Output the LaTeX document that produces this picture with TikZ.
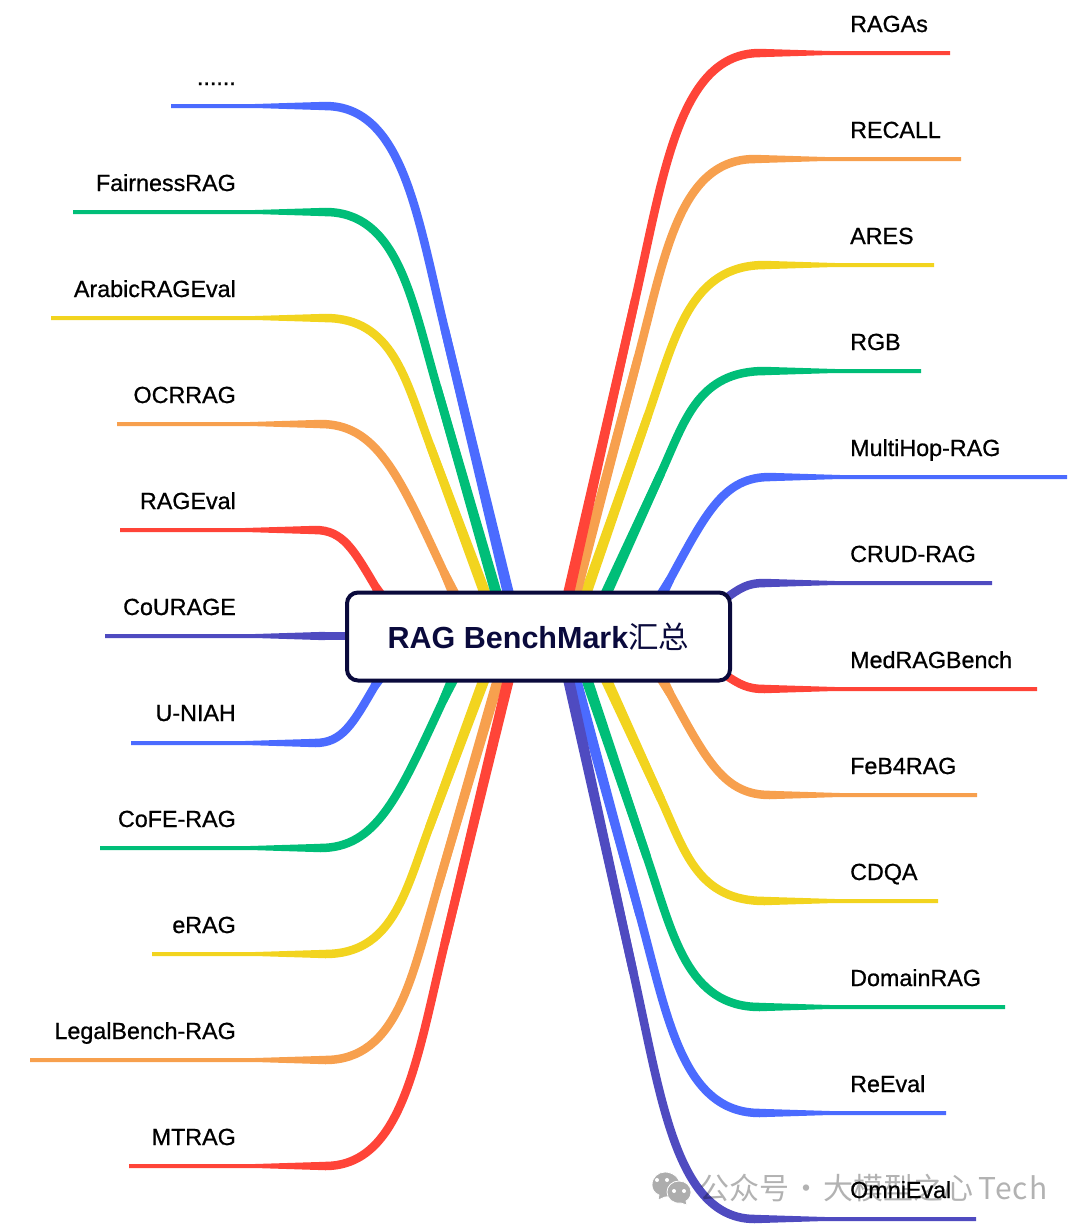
\documentclass[tikz,border=0pt]{standalone}
\usepackage{fontspec}
\setmainfont{Liberation Sans}[FakeBold=0.8,BoldFont={Liberation Sans Bold},BoldFeatures={FakeBold=0}]
\newfontfamily\cjk{Noto Sans CJK SC}
\usetikzlibrary{calc}
\definecolor{Red}{HTML}{FF4438}
\definecolor{Orange}{HTML}{F7A04E}
\definecolor{Yellow}{HTML}{F2D41F}
\definecolor{Green}{HTML}{00BE78}
\definecolor{Blue}{HTML}{4B6BFF}
\definecolor{Indigo}{HTML}{4F4BC0}
\definecolor{Ink}{HTML}{0A0A3C}
\tikzset{
    hubnode/.style={rectangle, rounded corners=11pt, draw=Ink, fill=white, line width=4pt, text=Ink, minimum width=383pt, minimum height=88pt, inner sep=0pt, font=\fontsize{30.5}{36}\selectfont\bfseries},
    leftlabel/.style={anchor=base east, inner sep=0pt, text=black, font=\fontsize{23.3}{28}\selectfont},
    rightlabel/.style={anchor=base west, inner sep=0pt, text=black, font=\fontsize{23.3}{28}\selectfont},
    watermark/.style={anchor=base west, inner sep=0pt, text=black, text opacity=0.3, font=\fontsize{30}{34}\selectfont\cjk},
    wechatbubble/.style={fill=black!32, draw=white, line width=0.8pt},
    wechateye/.style={fill=white, circle, inner sep=0pt, minimum size=4pt},
}
% name, colour, tip x, row y, knee x, end x, end y
\newcommand{\branch}[7]{%
    \pgfmathsetmacro{\bdir}{#5>#3?1:-1}
    \pgfmathsetmacro{\bdx}{#6-#5}
    \pgfmathsetmacro{\bdy}{#7-#4}
    \pgfmathsetmacro{\bcx}{abs(\bdy)<200?0.58:0.5}
    \pgfmathsetmacro{\bcy}{abs(\bdy)<200?0.29:0.22}
    \pgfmathsetmacro{\bmx}{abs(\bdy)<200?0.916:0.65}
    \pgfmathsetmacro{\bmy}{abs(\bdy)<200?0.858:0.454}
    \coordinate (#1-tip) at (#3,#4);
    \coordinate (#1-thin) at (#5-70*\bdir,#4);
    \coordinate (#1-knee) at (#5,#4);
    \coordinate (#1-ca) at (#5+0.42*\bdx,#4);
    \coordinate (#1-cb) at (#5+\bcx*\bdx,#4+\bcy*\bdy);
    \coordinate (#1-mid) at (#5+\bmx*\bdx,#4+\bmy*\bdy);
    \coordinate (#1-end) at (#6,#7);
    \fill[#2] (#1-tip) ++(0,-2) -- ($(#1-thin)+(0,-2)$) -- ($(#1-knee)+(0,-4.2)$) -- ($(#1-knee)+(0,4.2)$)
        -- ($(#1-thin)+(0,2)$) -- ($(#1-tip)+(0,2)$) -- cycle;
    \draw[#2, line width=8.5pt, line join=round] (#1-knee) .. controls (#1-ca) and (#1-cb) .. (#1-mid) -- (#1-end);
    \fill[#2] ($(#1-mid)!4.25pt!90:(#1-end)$) -- ($(#1-end)!5.5pt!-90:(#1-mid)$)
        -- ($(#1-end)!5.5pt!90:(#1-mid)$) -- ($(#1-mid)!4.25pt!-90:(#1-end)$) -- cycle;
}
\begin{document}
\begin{tikzpicture}[x=1pt,y=-1pt]
    \useasboundingbox (0,0) rectangle (1080,1232);

    % Left side, upper half
    \branch{rageval}{Red}{120}{530}{315}{381}{596}
    \branch{ocrrag}{Orange}{117}{424}{320}{455}{596}
    \branch{arabic}{Yellow}{51}{318}{325}{486}{596}
    \branch{fairness}{Green}{73}{212}{325}{497}{596}
    \branch{more}{Blue}{171}{106}{325}{509}{596}
    \branch{courage}{Indigo}{105}{636}{325}{360}{636}

    % Left side, lower half
    \branch{uniah}{Blue}{131}{743}{315}{380}{677}
    \branch{cofe}{Green}{100}{848}{320}{454}{677}
    \branch{erag}{Yellow}{152}{954}{325}{485}{677}
    \branch{legal}{Orange}{30}{1060}{325}{499}{677}
    \branch{mtrag}{Red}{129}{1166}{325}{509}{677}

    % Right side, upper half
    \branch{multihop}{Blue}{1067}{477}{770}{661}{596}
    \branch{rgb}{Green}{921}{371}{765}{605}{596}
    \branch{ares}{Yellow}{934}{265}{765}{585}{596}
    \branch{recall}{Orange}{961}{159}{755}{575}{596}
    \branch{ragas}{Red}{950}{53}{760}{568}{596}
    \branch{crud}{Indigo}{992}{583}{765}{722}{601}

    % Right side, lower half
    \branch{medrag}{Red}{1037}{689}{765}{722}{673}
    \branch{feb}{Orange}{977}{795}{770}{661}{677}
    \branch{cdqa}{Yellow}{938}{901}{765}{605}{677}
    \branch{domain}{Green}{1005}{1007}{760}{586}{677}
    \branch{reeval}{Blue}{946}{1113}{760}{575}{677}
    \branch{omni}{Indigo}{976}{1219}{755}{568}{677}

    % Centre
    \node[hubnode] (hub) at (538.5,636.5) {RAG BenchMark{\cjk\mdseries 汇总}};

    % Watermark
    \draw[wechatbubble] (652,1185) .. controls (652,1177) and (658,1172) .. (665,1172) .. controls (673,1172) and (680,1178) .. (680,1185) .. controls (680,1192) and (673,1197) .. (665,1197) -- (658,1200) -- (659,1195) .. controls (654,1193) and (652,1189) .. (652,1185) -- cycle;
    \draw[wechatbubble] (667,1192) .. controls (667,1186) and (672,1181) .. (679,1181) .. controls (686,1181) and (691,1186) .. (691,1192) .. controls (691,1197) and (688,1200) .. (686,1201) -- (687,1205) -- (681,1203) .. controls (673,1204) and (667,1199) .. (667,1192) -- cycle;
    \node[wechateye] (eyea) at (657,1180) {};
    \node[wechateye] (eyeb) at (667,1180) {};
    \node[wechateye] (eyec) at (674,1191) {};
    \node[wechateye] (eyed) at (684,1191) {};
    \node[watermark] (mark) at (699,1199) {公众号\hspace{2pt}·\hspace{2pt}大模型之心\hspace{5pt}{\addfontfeature{LetterSpace=4}Tech}};

    % Labels on the left
    \node[leftlabel] (morelabel) at (236,85) {......};
    \node[leftlabel] (fairnesslabel) at (236,191) {FairnessRAG};
    \node[leftlabel] (arabiclabel) at (236,297) {ArabicRAGEval};
    \node[leftlabel] (ocrraglabel) at (236,403) {OCRRAG};
    \node[leftlabel] (ragevallabel) at (236,509) {RAGEval};
    \node[leftlabel] (couragelabel) at (236,615) {CoURAGE};
    \node[leftlabel] (uniahlabel) at (236,721) {U-NIAH};
    \node[leftlabel] (cofelabel) at (236,827) {CoFE-RAG};
    \node[leftlabel] (eraglabel) at (236,933) {eRAG};
    \node[leftlabel] (legallabel) at (236,1039) {LegalBench-RAG};
    \node[leftlabel] (mtraglabel) at (236,1145) {MTRAG};

    % Labels on the right
    \node[rightlabel] (ragaslabel) at (850,32) {RAGAs};
    \node[rightlabel] (recalllabel) at (850,138) {RECALL};
    \node[rightlabel] (areslabel) at (850,244) {ARES};
    \node[rightlabel] (rgblabel) at (850,350) {RGB};
    \node[rightlabel] (multihoplabel) at (850,456) {MultiHop-RAG};
    \node[rightlabel] (crudlabel) at (850,562) {CRUD-RAG};
    \node[rightlabel] (medraglabel) at (850,668) {MedRAGBench};
    \node[rightlabel] (feblabel) at (850,774) {FeB4RAG};
    \node[rightlabel] (cdqalabel) at (850,880) {CDQA};
    \node[rightlabel] (domainlabel) at (850,986) {DomainRAG};
    \node[rightlabel] (reevallabel) at (850,1092) {ReEval};
    \node[rightlabel] (omnilabel) at (850,1198) {OmniEval};
\end{tikzpicture}
\end{document}
